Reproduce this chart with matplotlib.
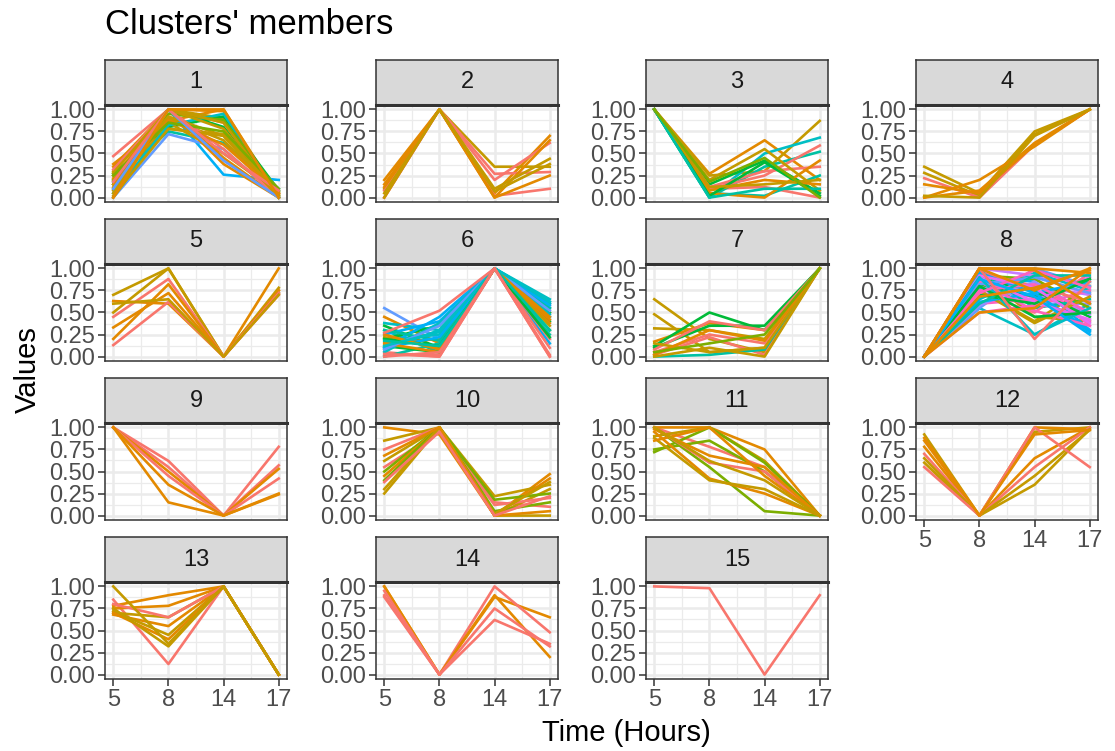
import matplotlib
matplotlib.use('Agg')
import matplotlib.pyplot as plt

plt.rcParams['font.family'] = ['Liberation Sans', 'DejaVu Sans']

# --- data -------------------------------------------------------------
hours = [5, 8, 14, 17]
y_ticks = [0.0, 0.25, 0.5, 0.75, 1.0]

SAL, ORA, OLI, GRN, LGR = '#F8766D', '#E38900', '#C49A00', '#00BA38', '#7CAE00'
TEA, CYA, SKY, BLU = '#00C1A3', '#00BFC4', '#00B0F6', '#619CFF'
PUR, VIO, MAG, PNK, ROS = '#9590FF', '#C77CFF', '#E76BF3', '#FF62BC', '#FF6C91'

c1_vals = [[0.47, 1.0, 0.85, 0.05], [0.38, 0.87, 1.0, 0.02], [0.35, 1.0, 0.98, 0.0],
           [0.30, 1.0, 0.90, 0.05], [0.27, 0.80, 0.92, 0.08], [0.25, 0.78, 0.72, 0.03],
           [0.20, 0.75, 0.62, 0.10], [0.18, 1.0, 0.26, 0.20], [0.0, 0.72, 0.55, 0.0],
           [0.0, 0.85, 0.50, 0.05], [0.12, 1.0, 0.45, 0.0], [0.08, 0.90, 0.65, 0.0],
           [0.15, 1.0, 0.80, 0.0], [0.05, 0.82, 0.95, 0.02], [0.32, 1.0, 0.55, 0.0],
           [0.22, 1.0, 0.38, 0.0], [0.10, 0.95, 0.88, 0.07], [0.02, 0.78, 0.70, 0.03],
           [0.28, 1.0, 0.78, 0.02], [0.20, 0.92, 0.70, 0.0], [0.15, 0.88, 0.60, 0.05],
           [0.05, 1.0, 0.85, 0.0], [0.25, 0.85, 0.75, 0.10], [0.10, 1.0, 0.42, 0.0],
           [0.18, 1.0, 0.50, 0.08], [0.0, 1.0, 1.0, 0.0]]
c1_cols = [SAL, ORA, ORA, OLI, GRN, OLI, TEA, SKY, BLU, OLI, ORA, OLI, GRN, CYA, SAL, ORA,
           LGR, OLI, OLI, OLI, ORA, OLI, LGR, BLU, SAL, ORA]

c2_vals = [[0.2, 1.0, 0.05, 0.70], [0.1, 1.0, 0.35, 0.35], [0.0, 1.0, 0.27, 0.29],
           [0.08, 1.0, 0.20, 0.62], [0.0, 1.0, 0.02, 0.10], [0.15, 1.0, 0.0, 0.65],
           [0.05, 1.0, 0.10, 0.44], [0.12, 1.0, 0.0, 0.25], [0.0, 1.0, 0.07, 0.38]]
c2_cols = [ORA, OLI, SAL, SAL, SAL, ORA, OLI, ORA, OLI]

c3_vals = [[1, 0.27, 0.65, 0.20], [1, 0.25, 0.30, 0.87], [1, 0.0, 0.50, 0.68],
           [1, 0.10, 0.12, 0.0], [1, 0.15, 0.42, 0.05], [1, 0.0, 0.35, 0.52],
           [1, 0.05, 0.02, 0.25], [1, 0.10, 0.25, 0.59], [1, 0.12, 0.30, 0.35],
           [1, 0.05, 0.0, 0.42], [1, 0.20, 0.55, 0.08], [1, 0.08, 0.20, 0.15],
           [1, 0.02, 0.40, 0.02], [1, 0.12, 0.15, 0.20], [1, 0.0, 0.10, 0.10],
           [1, 0.18, 0.45, 0.0]]
c3_cols = [ORA, OLI, CYA, SAL, GRN, TEA, TEA, SAL, SAL, ORA, OLI, ORA, GRN, OLI, TEA, LGR]

c4_vals = [[0.35, 0.05, 0.75, 1.0], [0.28, 0.02, 0.72, 1.0], [0.22, 0.0, 0.60, 1.0],
           [0.15, 0.05, 0.60, 1.0], [0.0, 0.20, 0.58, 1.0], [0.0, 0.08, 0.62, 1.0],
           [0.02, 0.0, 0.70, 1.0]]
c4_cols = [OLI, OLI, SAL, ORA, ORA, ORA, OLI]

c5_vals = [[0.70, 1.0, 0, 0.72], [0.63, 0.60, 0, 0.75], [0.50, 1.0, 0, 0.78],
           [0.45, 0.88, 0, 0.70], [0.33, 0.72, 0, 1.0], [0.20, 0.82, 0, 0.75],
           [0.13, 0.62, 0, 0.72], [0.60, 0.65, 0, 0.70]]
c5_cols = [OLI, ORA, OLI, SAL, ORA, ORA, SAL, OLI]

c6_vals = [[0.55, 0.20, 1, 0.60], [0.45, 0.15, 1, 0.50], [0.38, 0.30, 1, 0.62],
           [0.35, 0.10, 1, 0.40], [0.30, 0.05, 1, 0.55], [0.25, 0.40, 1, 0.45],
           [0.20, 0.35, 1, 0.30], [0.15, 0.20, 1, 0.38], [0.10, 0.45, 1, 0.15],
           [0.08, 0.30, 1, 0.60], [0.05, 0.0, 1, 0.20], [0.02, 0.02, 1, 0.10],
           [0.0, 0.15, 1, 0.25], [0.12, 0.05, 1, 0.50], [0.18, 0.25, 1, 0.65],
           [0.22, 0.10, 1, 0.35], [0.05, 0.38, 1, 0.48], [0.30, 0.18, 1, 0.55],
           [0.10, 0.22, 1, 0.58], [0.15, 0.05, 1, 0.45], [0.20, 0.12, 1, 0.22],
           [0.08, 0.35, 1, 0.52], [0.25, 0.08, 1, 0.42], [0.12, 0.28, 1, 0.62],
           [0.18, 0.12, 1, 0.30], [0.0, 0.05, 1, 0.02], [0.03, 0.0, 1, 0.0],
           [0.27, 0.52, 1, 0.0]]
c6_cols = [BLU, ORA, CYA, GRN, TEA, SKY, GRN, ORA, SKY, CYA, SAL, SAL, TEA, GRN, CYA,
           OLI, CYA, TEA, SKY, ORA, GRN, BLU, ORA, CYA, TEA, SAL, SAL, SAL]

c7_vals = [[0.65, 0.20, 0.05, 1], [0.48, 0.05, 0.10, 1], [0.32, 0.30, 0.20, 1],
           [0.17, 0.38, 0.30, 1], [0.12, 0.50, 0.30, 1], [0.10, 0.35, 0.35, 1],
           [0.05, 0.25, 0.15, 1], [0.02, 0.22, 0.02, 1], [0.0, 0.02, 0.08, 1],
           [0.08, 0.40, 0.30, 1], [0.15, 0.05, 0.10, 1], [0.02, 0.30, 0.18, 1],
           [0.0, 0.10, 0.0, 1], [0.05, 0.15, 0.25, 1]]
c7_cols = [OLI, OLI, OLI, ORA, GRN, GRN, SAL, SAL, TEA, SAL, OLI, ORA, OLI, LGR]

c8_vals = [[0, 0.55, 0.25, 0.60], [0, 0.75, 0.40, 0.80], [0, 0.95, 0.45, 0.40],
           [0, 0.90, 0.85, 0.30], [0, 0.60, 0.70, 0.50], [0, 0.80, 0.90, 0.35],
           [0, 1.0, 0.65, 0.90], [0, 0.70, 0.80, 0.70], [0, 0.85, 0.60, 0.60],
           [0, 0.65, 0.95, 0.75], [0, 0.88, 0.75, 0.45], [0, 0.98, 0.55, 0.65],
           [0, 0.55, 1.0, 0.80], [0, 0.72, 0.50, 0.95], [0, 0.92, 0.88, 0.55],
           [0, 0.60, 0.65, 0.40], [0, 0.78, 0.70, 0.28], [0, 1.0, 0.92, 0.70],
           [0, 0.82, 0.68, 0.88], [0, 0.50, 0.58, 0.75], [0, 0.95, 0.80, 0.62],
           [0, 0.58, 0.85, 0.48], [0, 0.75, 0.38, 0.68], [0, 0.62, 0.72, 0.30],
           [0, 0.90, 0.62, 0.42], [0, 0.85, 0.52, 0.35], [0, 0.95, 0.72, 0.85],
           [0, 0.75, 0.82, 0.50], [0, 0.82, 0.90, 0.72], [0, 0.70, 0.60, 0.88],
           [0, 0.92, 0.78, 0.38], [0, 0.60, 0.92, 0.92], [0, 0.90, 0.25, 0.55],
           [0, 0.80, 0.45, 0.50], [0, 0.72, 0.98, 0.78], [0, 0.88, 0.68, 0.25],
           [0, 1.0, 0.20, 0.85], [0, 0.68, 0.78, 0.98], [0, 0.50, 0.55, 1.0],
           [0, 1.0, 0.75, 1.0], [0, 1.0, 1.0, 0.95], [0, 1.0, 0.98, 0.60]]
c8_cols = [CYA, OLI, OLI, SKY, MAG, PNK, MAG, VIO, PUR, CYA, GRN, TEA, BLU, ROS, LGR,
           PNK, SKY, VIO, GRN, PNK, SAL, PUR, OLI, SKY, MAG, PNK, SKY, PNK, BLU, GRN,
           MAG, TEA, CYA, GRN, PNK, SKY, SAL, ORA, ORA, ORA, ORA, ORA]

c9_vals = [[1, 0.62, 0, 0.78], [1, 0.55, 0, 0.57], [1, 0.50, 0, 0.53],
           [1, 0.45, 0, 0.42], [1, 0.35, 0, 0.25], [1, 0.15, 0, 0.24]]
c9_cols = [SAL, SAL, ORA, SAL, ORA, ORA]

c10_vals = [[1.0, 0.92, 0.0, 0.47], [0.85, 1.0, 0.22, 0.35], [0.75, 1.0, 0.15, 0.10],
            [0.62, 1.0, 0.0, 0.30], [0.55, 0.95, 0.12, 0.20], [0.50, 1.0, 0.05, 0.15],
            [0.45, 1.0, 0.0, 0.42], [0.40, 1.0, 0.18, 0.25], [0.30, 1.0, 0.0, 0.0],
            [0.25, 1.0, 0.02, 0.38], [0.68, 1.0, 0.0, 0.05], [0.38, 0.95, 0.0, 0.22]]
c10_cols = [ORA, OLI, SAL, OLI, SAL, LGR, ORA, LGR, OLI, OLI, ORA, SAL]

c11_vals = [[1.0, 0.78, 0.55, 0], [1.0, 1.0, 0.75, 0], [0.90, 1.0, 0.62, 0],
            [0.72, 1.0, 0.60, 0], [0.75, 0.85, 0.50, 0], [1.0, 0.55, 0.05, 0],
            [0.95, 0.42, 0.25, 0], [0.88, 0.40, 0.30, 0], [1.0, 0.60, 0.50, 0],
            [0.85, 1.0, 0.45, 0], [0.98, 0.68, 0.55, 0], [1.0, 0.62, 0.40, 0]]
c11_cols = [SAL, ORA, OLI, LGR, LGR, LGR, ORA, OLI, SAL, ORA, ORA, OLI]

c12_vals = [[0.92, 0, 0.95, 1.0], [0.85, 0, 1.0, 0.98], [0.78, 0, 0.65, 1.0],
            [0.70, 0, 0.55, 1.0], [0.65, 0, 0.35, 0.98], [0.60, 0, 0.45, 0.97],
            [0.55, 0, 1.0, 0.55], [0.88, 0, 0.92, 0.97]]
c12_cols = [OLI, ORA, ORA, SAL, OLI, OLI, SAL, ORA]

c13_vals = [[0.85, 0.12, 1, 0], [0.78, 0.90, 1, 0], [0.75, 0.78, 1, 0],
            [0.70, 0.65, 1, 0], [0.68, 0.55, 1, 0], [0.72, 0.45, 1, 0],
            [0.80, 0.65, 1, 0], [0.70, 0.40, 1, 0], [0.75, 0.32, 1, 0],
            [1.0, 0.35, 1, 0]]
c13_cols = [SAL, ORA, ORA, OLI, ORA, OLI, SAL, ORA, OLI, OLI]

c14_vals = [[1.0, 0, 0.88, 0.65], [0.88, 0, 1.0, 0.48], [1.0, 0, 0.90, 0.20],
            [0.90, 0, 0.75, 0.32], [0.95, 0, 0.62, 0.35]]
c14_cols = [ORA, SAL, ORA, SAL, SAL]

c15_vals = [[1.0, 0.98, 0.0, 0.90]]
c15_cols = [SAL]

clusters = [(c1_vals, c1_cols), (c2_vals, c2_cols), (c3_vals, c3_cols), (c4_vals, c4_cols),
            (c5_vals, c5_cols), (c6_vals, c6_cols), (c7_vals, c7_cols), (c8_vals, c8_cols),
            (c9_vals, c9_cols), (c10_vals, c10_cols), (c11_vals, c11_cols), (c12_vals, c12_cols),
            (c13_vals, c13_cols), (c14_vals, c14_cols), (c15_vals, c15_cols)]

# --- layout (pixels) --------------------------------------------------
W, H = 1115, 751
col_left = [105, 376, 646, 916]
panel_w, panel_h, strip_h = 182, 97, 45
row_top = [60, 219, 378, 537]
DARK = '#333333'


def box(x, y, w, h):
    return [x / W, 1 - (y + h) / H, w / W, h / H]


fig = plt.figure(figsize=(W / 100, H / 100), dpi=100)
fig.patch.set_facecolor('white')

xpos = list(range(1, len(hours) + 1))
n = len(clusters)
for i, (vals, cols) in enumerate(clusters):
    r, c = divmod(i, 4)
    # strip
    sx = fig.add_axes(box(col_left[c], row_top[r], panel_w, strip_h))
    sx.set_facecolor('#D9D9D9')
    sx.set_xticks([]); sx.set_yticks([])
    for s in sx.spines.values():
        s.set_color(DARK); s.set_linewidth(1.1)
    sx.text(0.5, 0.5, str(i + 1), ha='center', va='center', fontsize=17,
            color='#1A1A1A', transform=sx.transAxes)

    ax = fig.add_axes(box(col_left[c], row_top[r] + strip_h, panel_w, panel_h))
    ax.set_xlim(0.85, 4.15)
    ax.set_ylim(-0.05, 1.05)
    for xv in [1.5, 2.5, 3.5]:
        ax.axvline(xv, color='#EBEBEB', lw=0.9, zorder=0)
    for yv in [0.125, 0.375, 0.625, 0.875]:
        ax.axhline(yv, color='#EBEBEB', lw=0.9, zorder=0)
    for xv in xpos:
        ax.axvline(xv, color='#EBEBEB', lw=1.8, zorder=0)
    for yv in y_ticks:
        ax.axhline(yv, color='#EBEBEB', lw=1.8, zorder=0)

    for v, col in zip(vals, cols):
        ax.plot(xpos, v, color=col, lw=1.9, zorder=2, solid_joinstyle='round')

    ax.set_yticks(y_ticks)
    ax.set_yticklabels([f'{t:.2f}' for t in y_ticks])
    ax.set_xticks(xpos)
    bottom = (i + 4 >= n)
    if bottom:
        ax.set_xticklabels([str(h) for h in hours])
        ax.tick_params(axis='x', length=5, width=1.1, color=DARK,
                       labelsize=17, labelcolor='#4D4D4D', pad=2)
    else:
        ax.tick_params(axis='x', length=0, labelbottom=False)
    ax.tick_params(axis='y', length=5, width=1.1, color=DARK,
                   labelsize=17, labelcolor='#4D4D4D', pad=2)
    for s in ax.spines.values():
        s.set_color(DARK); s.set_linewidth(1.1)
    ax.spines['top'].set_linewidth(2.2)

fig.text(105 / W, 1 - 25 / H, "Clusters' members", fontsize=25, ha='left',
         va='center', color='black')
fig.text(28 / W, 1 - 370 / H, 'Values', fontsize=21, rotation=90,
         ha='center', va='center', color='black')
fig.text(626 / W, 1 - 733 / H, 'Time (Hours)', fontsize=21, ha='center',
         va='center', color='black')

plt.savefig('out.png', dpi=100, facecolor=fig.get_facecolor())
plt.close()
